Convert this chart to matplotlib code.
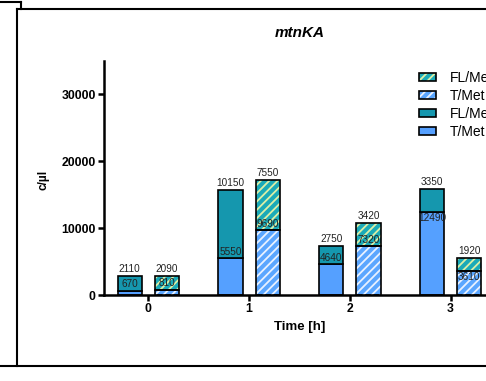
import matplotlib
matplotlib.use("Agg")
import matplotlib.pyplot as plt
from matplotlib.lines import Line2D
from matplotlib.patches import Patch
from matplotlib.legend_handler import HandlerTuple
import numpy as np

plt.rcParams['font.family'] = ['Liberation Sans', 'DejaVu Sans']
plt.rcParams['hatch.linewidth'] = 1.3

# Data: copies per microlitre at each time point
time_points = [0, 1, 2, 3]
solid_t_met = [670, 5550, 4640, 12490]
solid_fl_met = [2110, 10150, 2750, 3350]
hatched_t_met = [810, 9690, 7320, 3610]
hatched_fl_met = [2090, 7550, 3420, 1920]

legend_labels = ["FL/Met", "T/Met", "FL/Met", "T/Met"]
y_ticks = [0, 10000, 20000, 30000]

# Colours
c_teal = "#1597ae"
c_blue = "#55a0ff"
c_teal_h = "#1aaab8"
c_teal_stripe = "#dcefa6"
c_blue_h = "#5aa6ff"
c_blue_stripe = "#e8f1ff"

W, H = 486, 381
fig = plt.figure(figsize=(W / 100, H / 100), dpi=100)
ax = fig.add_axes([104 / W, 86 / H, 403 / W, 0.614])

x = np.array(time_points, dtype=float)
off = 0.185
bw = 0.24
lw = 1.2


def hatched_bar(xpos, height, bottom, face, stripe):
    ax.bar(xpos, height, bw, bottom=bottom, color=face, edgecolor="none", zorder=2)
    ax.bar(xpos, height, bw, bottom=bottom, color="none", edgecolor=stripe,
           hatch="////", linewidth=0, zorder=3)
    ax.bar(xpos, height, bw, bottom=bottom, color="none", edgecolor="black",
           linewidth=lw, zorder=4)


# solid bars
ax.bar(x - off, solid_t_met, bw, color=c_blue, edgecolor="black", linewidth=lw, zorder=2)
ax.bar(x - off, solid_fl_met, bw, bottom=solid_t_met, color=c_teal, edgecolor="black",
       linewidth=lw, zorder=2)
# hatched bars
hatched_bar(x + off, hatched_t_met, 0, c_blue_h, c_blue_stripe)
hatched_bar(x + off, hatched_fl_met, hatched_t_met, c_teal_h, c_teal_stripe)

# value labels
inner_below = {3}
lab_kw = dict(ha="center", va="center", fontsize=7.2, color="#222222",
              textcoords="offset points", zorder=6)
for i, t in enumerate(time_points):
    for xp, b, tp in ((t - off, solid_t_met[i], solid_fl_met[i]),
                      (t + off, hatched_t_met[i], hatched_fl_met[i])):
        ax.annotate(f"{tp}", (xp, b + tp), xytext=(0, 5), **lab_kw)
        dy = -4.5 if t in inner_below else 4.5
        ax.annotate(f"{b}", (xp, b), xytext=(0, dy), **lab_kw)

ax.set_xlim(-0.44, 3.56)
ax.set_ylim(0, 35000)
ax.set_xticks(time_points)
ax.set_xticklabels([str(t) for t in time_points])
ax.set_yticks(y_ticks)
ax.set_yticklabels([str(v) for v in y_ticks])
for s in ("top", "right"):
    ax.spines[s].set_visible(False)
for s in ("left", "bottom"):
    ax.spines[s].set_linewidth(1.8)
ax.tick_params(axis="both", direction="out", length=4, width=1.8, pad=2,
               labelsize=8.8)
for lab in ax.get_xticklabels() + ax.get_yticklabels():
    lab.set_fontweight("bold")
ax.set_facecolor("none")

fig.text(300 / W, 1 - 33 / H, "mtnKA", ha="center", va="center", fontsize=11,
         fontweight="bold", fontstyle="italic")
fig.text(300 / W, 1 - 327 / H, "Time [h]", ha="center", va="center", fontsize=9.5,
         fontweight="bold")
fig.text(43 / W, 1 - 180 / H, "c/µl", ha="center", va="center", fontsize=8.5,
         fontweight="bold", rotation=90)


def hatched_handle(face, stripe):
    return (Patch(facecolor=face, edgecolor="none"),
            Patch(facecolor="none", edgecolor=stripe, hatch="////", linewidth=0),
            Patch(facecolor="none", edgecolor="black", linewidth=1.2))


handles = [
    hatched_handle(c_teal_h, c_teal_stripe),
    hatched_handle(c_blue_h, c_blue_stripe),
    Patch(facecolor=c_teal, edgecolor="black", linewidth=1.2),
    Patch(facecolor=c_blue, edgecolor="black", linewidth=1.2),
]
leg = fig.legend(handles, legend_labels, loc="upper left",
                 bbox_to_anchor=(412 / W, 1 - 64 / H), frameon=False,
                 fontsize=10, handlelength=1.25, handleheight=0.5,
                 handletextpad=0.95, labelspacing=0.28, borderpad=0,
                 handler_map={tuple: HandlerTuple(ndivide=1, pad=0)})

# surrounding frame lines
fl = dict(color="black", linewidth=1.5, transform=fig.transFigure)
def px(xp, yp):
    return xp / W, 1 - yp / H
for (x0, y0), (x1, y1) in [((0, 2), (21, 2)), ((21, 2), (21, 9)),
                           ((17, 9), (486, 9)), ((17, 9), (17, 366)),
                           ((0, 366), (486, 366))]:
    a, b = px(x0, y0)
    c, d = px(x1, y1)
    fig.add_artist(Line2D([a, c], [b, d], **fl))

fig.savefig("out.png", dpi=100)
